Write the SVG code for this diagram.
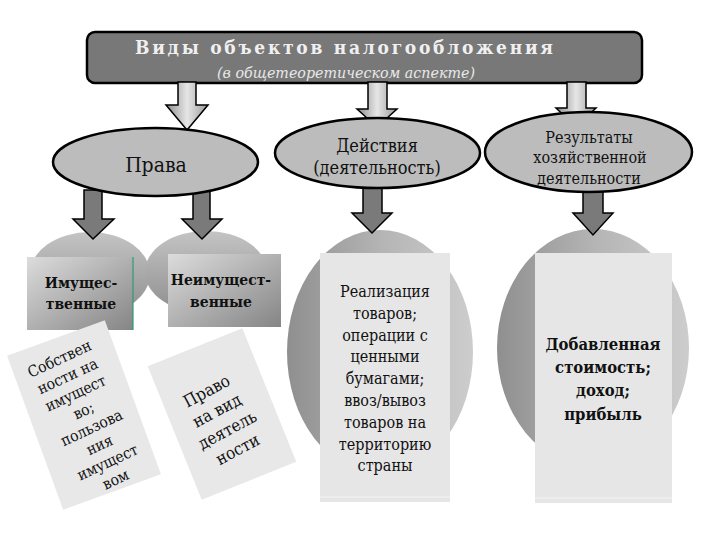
<svg xmlns="http://www.w3.org/2000/svg" width="720" height="540" viewBox="0 0 720 540">
<defs>
<style>
text{font-family:'DejaVu Serif Condensed','DejaVu Serif',serif;fill:#111;text-anchor:middle}
.title{font-size:19px;font-weight:bold;fill:#f0f0f0}
.sub{font-family:'DejaVu Serif',serif;font-size:15px;font-style:italic;fill:#e8e8e8}
.ell{fill:#bcbcbc;stroke:#000;stroke-width:2.5}
.upArrow{fill:url(#gArrowL);stroke:#000;stroke-width:1.5}
.dnArrow{fill:#7a7a7a;stroke:#000;stroke-width:1.5}
.box{fill:#e6e6e6}
.lbl{font-size:16px}
.bl{font-size:15.5px;font-weight:bold}
.res{font-size:16px}
.big{font-size:16.5px;font-weight:bold}
</style>
<linearGradient id="gArrowL" x1="0" y1="0" x2="1" y2="0">
<stop offset="0" stop-color="#8c8c8c"/><stop offset="0.5" stop-color="#e6e6e6"/><stop offset="1" stop-color="#9a9a9a"/>
</linearGradient>
<linearGradient id="gCirc" x1="0" y1="0" x2="0" y2="1">
<stop offset="0" stop-color="#c4c4c4"/><stop offset="1" stop-color="#8e8e8e"/>
</linearGradient>
<linearGradient id="gBig" x1="0" y1="0" x2="1" y2="0">
<stop offset="0" stop-color="#8f8f8f"/><stop offset="0.5" stop-color="#b4b4b4"/><stop offset="1" stop-color="#cdcdcd"/>
</linearGradient>
<linearGradient id="gRect" x1="0" y1="0" x2="1" y2="1">
<stop offset="0" stop-color="#dcdcdc"/><stop offset="1" stop-color="#858585"/>
</linearGradient>
</defs>

<g id="title">
<rect x="87" y="32" width="555" height="51" rx="8" fill="#787878" stroke="#000" stroke-width="2.5"/>
<text class="title" x="344" y="54" textLength="418" lengthAdjust="spacing">Виды объектов налогообложения</text>
<text class="sub" x="346" y="78" textLength="258" lengthAdjust="spacingAndGlyphs">(в общетеоретическом аспекте)</text>
</g>

<g id="bg-circles">
<ellipse cx="90" cy="274" rx="60" ry="42" fill="url(#gCirc)"/>
<ellipse cx="206" cy="272" rx="61" ry="41" fill="url(#gCirc)"/>
<ellipse cx="380" cy="352" rx="93" ry="122" fill="url(#gBig)"/>
<ellipse cx="593" cy="348" rx="96" ry="119" fill="url(#gBig)"/>
</g>

<g id="connectors">
<path class="upArrow" d="M178,82 L196,82 L196,105 L208,105 L187,130 L166,105 L178,105 Z"/>
<path class="upArrow" d="M368,82 L387,82 L387,109 L397,109 L377,127 L357,109 L368,109 Z"/>
<path class="upArrow" d="M567,82 L586,82 L586,108 L596,108 L576,127 L556,108 L567,108 Z"/>
<path class="dnArrow" d="M84,190 L102,190 L102,219 L114,219 L93,239 L73,219 L84,219 Z"/>
<path class="dnArrow" d="M193,190 L210,190 L210,219 L222,219 L202,239 L182,219 L193,219 Z"/>
<path class="dnArrow" d="M363,184 L382,184 L382,213 L392,213 L372,233 L352,213 L363,213 Z"/>
<path class="dnArrow" d="M583,186 L603,186 L603,213 L613,213 L593,235 L573,213 L583,213 Z"/>
</g>

<g id="prava">
<ellipse class="ell" cx="155.5" cy="162" rx="102.5" ry="34"/>
<text x="156" y="172" font-size="21">Права</text>
</g>

<g id="deistviya">
<ellipse class="ell" cx="377.5" cy="153" rx="102.5" ry="35"/>
<text x="377" y="152" font-size="18">Действия</text>
<text x="377" y="174" font-size="18">(деятельность)</text>
</g>

<g id="rezultaty">
<ellipse class="ell" cx="588.5" cy="152" rx="103.5" ry="40"/>
<text class="res" x="589" y="143">Результаты</text>
<text class="res" x="590" y="163">хозяйственной</text>
<text class="res" x="589" y="184">деятельности</text>
</g>

<g id="imushchestvennye">
<rect x="27" y="257" width="106" height="73" fill="url(#gRect)"/>
<line x1="133" y1="257" x2="133" y2="330" stroke="#2a9a7a" stroke-width="1.2"/>
<text class="bl" x="81" y="288">Имущес-</text>
<text class="bl" x="81" y="309">твенные</text>
</g>

<g id="neimushchestvennye">
<rect x="168" y="254" width="113" height="73" fill="url(#gRect)"/>
<text class="bl" x="221" y="285">Неимущест-</text>
<text class="bl" x="221" y="307">венные</text>
</g>

<g id="sobstvennost">
<rect x="-52" y="-82" width="104" height="164" fill="#e8e8e8" transform="translate(84,415) rotate(-20)"/>
<g transform="translate(87,418) rotate(-25)" font-size="15.5">
<text x="0" y="-60">Собствен</text>
<text x="0" y="-41">ности на</text>
<text x="0" y="-22">имущест</text>
<text x="0" y="-3">во;</text>
<text x="0" y="16">пользова</text>
<text x="0" y="35">ния</text>
<text x="0" y="54">имущест</text>
<text x="0" y="73">вом</text>
</g>
</g>

<g id="pravo-vid">
<rect x="-51" y="-72" width="102" height="144" fill="#e8e8e8" transform="translate(222,414) rotate(-22)"/>
<g transform="translate(222,420) rotate(-28)" font-size="17">
<text x="0" y="-27">Право</text>
<text x="0" y="-5">на вид</text>
<text x="0" y="17">деятель</text>
<text x="0" y="39">ности</text>
</g>
</g>

<g id="realizaciya">
<rect class="box" x="320" y="253" width="130" height="249"/>
<line x1="320" y1="497" x2="450" y2="497" stroke="#f4f4f4" stroke-width="1"/>
<text class="lbl" x="385" y="297">Реализация</text>
<text class="lbl" x="385" y="319">товаров;</text>
<text class="lbl" x="385" y="341">операции с</text>
<text class="lbl" x="385" y="362">ценными</text>
<text class="lbl" x="385" y="384">бумагами;</text>
<text class="lbl" x="385" y="406">ввоз/вывоз</text>
<text class="lbl" x="385" y="428">товаров на</text>
<text class="lbl" x="385" y="450">территорию</text>
<text class="lbl" x="385" y="471">страны</text>
</g>

<g id="dobavlennaya">
<rect class="box" x="535" y="253" width="137" height="250"/>
<line x1="535" y1="498" x2="672" y2="498" stroke="#f4f4f4" stroke-width="1"/>
<text class="big" x="603" y="350">Добавленная</text>
<text class="big" x="603" y="373">стоимость;</text>
<text class="big" x="603" y="396">доход;</text>
<text class="big" x="603" y="420">прибыль</text>
</g>
</svg>
